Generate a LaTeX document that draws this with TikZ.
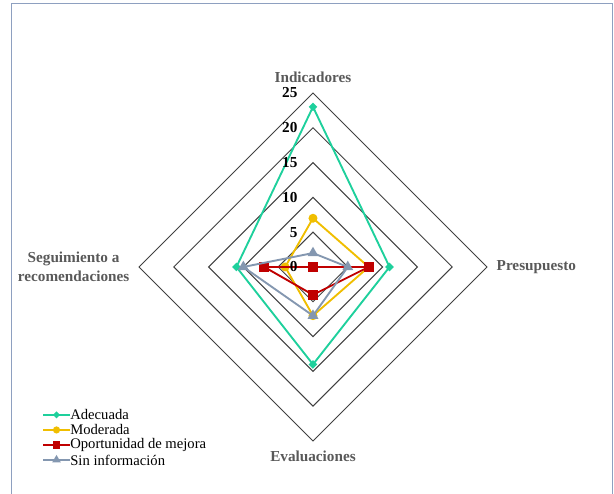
\documentclass[tikz,border=0pt]{standalone}
\usepackage{fontspec}
\setmainfont{Liberation Serif}
\usetikzlibrary{shapes.geometric}
\definecolor{verde}{RGB}{30,208,156}
\definecolor{amarillo}{RGB}{240,190,0}
\definecolor{rojo}{RGB}{192,0,0}
\definecolor{grisazul}{RGB}{132,151,176}
\definecolor{marcogris}{RGB}{142,160,192}
\tikzset{
  rejilla/.style={draw=black!75, line width=0.85pt},
  serie/.style={line width=1.6pt, line join=round},
  adecuada/.style={serie, draw=verde},
  moderada/.style={serie, draw=amarillo},
  oportunidad/.style={serie, draw=rojo},
  sininfo/.style={serie, draw=grisazul},
  marca/.style={inner sep=0pt, outer sep=0pt},
  marca adecuada/.style={marca, diamond, fill=verde, minimum size=0.26cm},
  marca moderada/.style={marca, circle, fill=amarillo, minimum size=0.27cm},
  marca oportunidad/.style={marca, rectangle, fill=rojo, minimum size=0.29cm},
  marca sininfo/.style={marca, regular polygon, regular polygon sides=3, fill=grisazul, minimum size=0.38cm},
  eje/.style={font=\fontsize{13}{16}\selectfont\bfseries, text=black!65, align=center},
  escala/.style={font=\fontsize{13}{15}\selectfont\bfseries, inner sep=0pt},
  leyenda/.style={font=\fontsize{12.5}{14}\selectfont, inner sep=0pt},
}
\begin{document}
\begin{tikzpicture}[x=0.2088cm, y=0.2088cm]
  \useasboundingbox (-44.97,-32.61) rectangle (43.25,38.36);
  \draw[marcogris, line width=0.8pt] (-43.39,-34) |- (42.96,37.93) -- (42.96,-34);

  \foreach \r in {5,10,...,25}
    \draw[rejilla] (90:\r) -- (0:\r) -- (-90:\r) -- (180:\r) -- cycle;

  \node[eje] (ind) at (0,27.3) {Indicadores};
  \node[eje, anchor=west] (pre) at (25.8,0) {Presupuesto};
  \node[eje, anchor=south] (eva) at (0,-28.6) {Evaluaciones};
  \node[eje, anchor=east] (seg) at (-25.8,0) {Seguimiento a\\recomendaciones};

  \foreach \serie/\i/\p/\e/\s in {adecuada/23/11/14/11, moderada/7/8/7/4, oportunidad/0/8/4/7, sininfo/2/5/7/10} {
    \draw[\serie] (90:\i) coordinate (\serie-i) -- (0:\p) coordinate (\serie-p)
      -- (-90:\e) coordinate (\serie-e) -- (180:\s) coordinate (\serie-s) -- cycle;
    \foreach \c in {i,p,e,s}
      \node[marca \serie] (m-\serie-\c) at (\serie-\c) {};
  }

  \foreach \v in {0,5,...,25}
    \node[escala, anchor=east] (t\v) at (-2.2,\v) {\v};

  \foreach \serie/\texto [count=\k] in {adecuada/Adecuada, moderada/Moderada, oportunidad/Oportunidad de mejora, sininfo/Sin información} {
    \node[leyenda, anchor=west] (ley-\serie) at (-34.9,{-21.26-2.155*(\k-1)}) {\texto};
    \draw[\serie, line width=1.3pt] (ley-\serie.west) -- ++(-3.9,0) node[pos=.5, marca \serie, scale=0.8] {};
  }
\end{tikzpicture}
\end{document}
